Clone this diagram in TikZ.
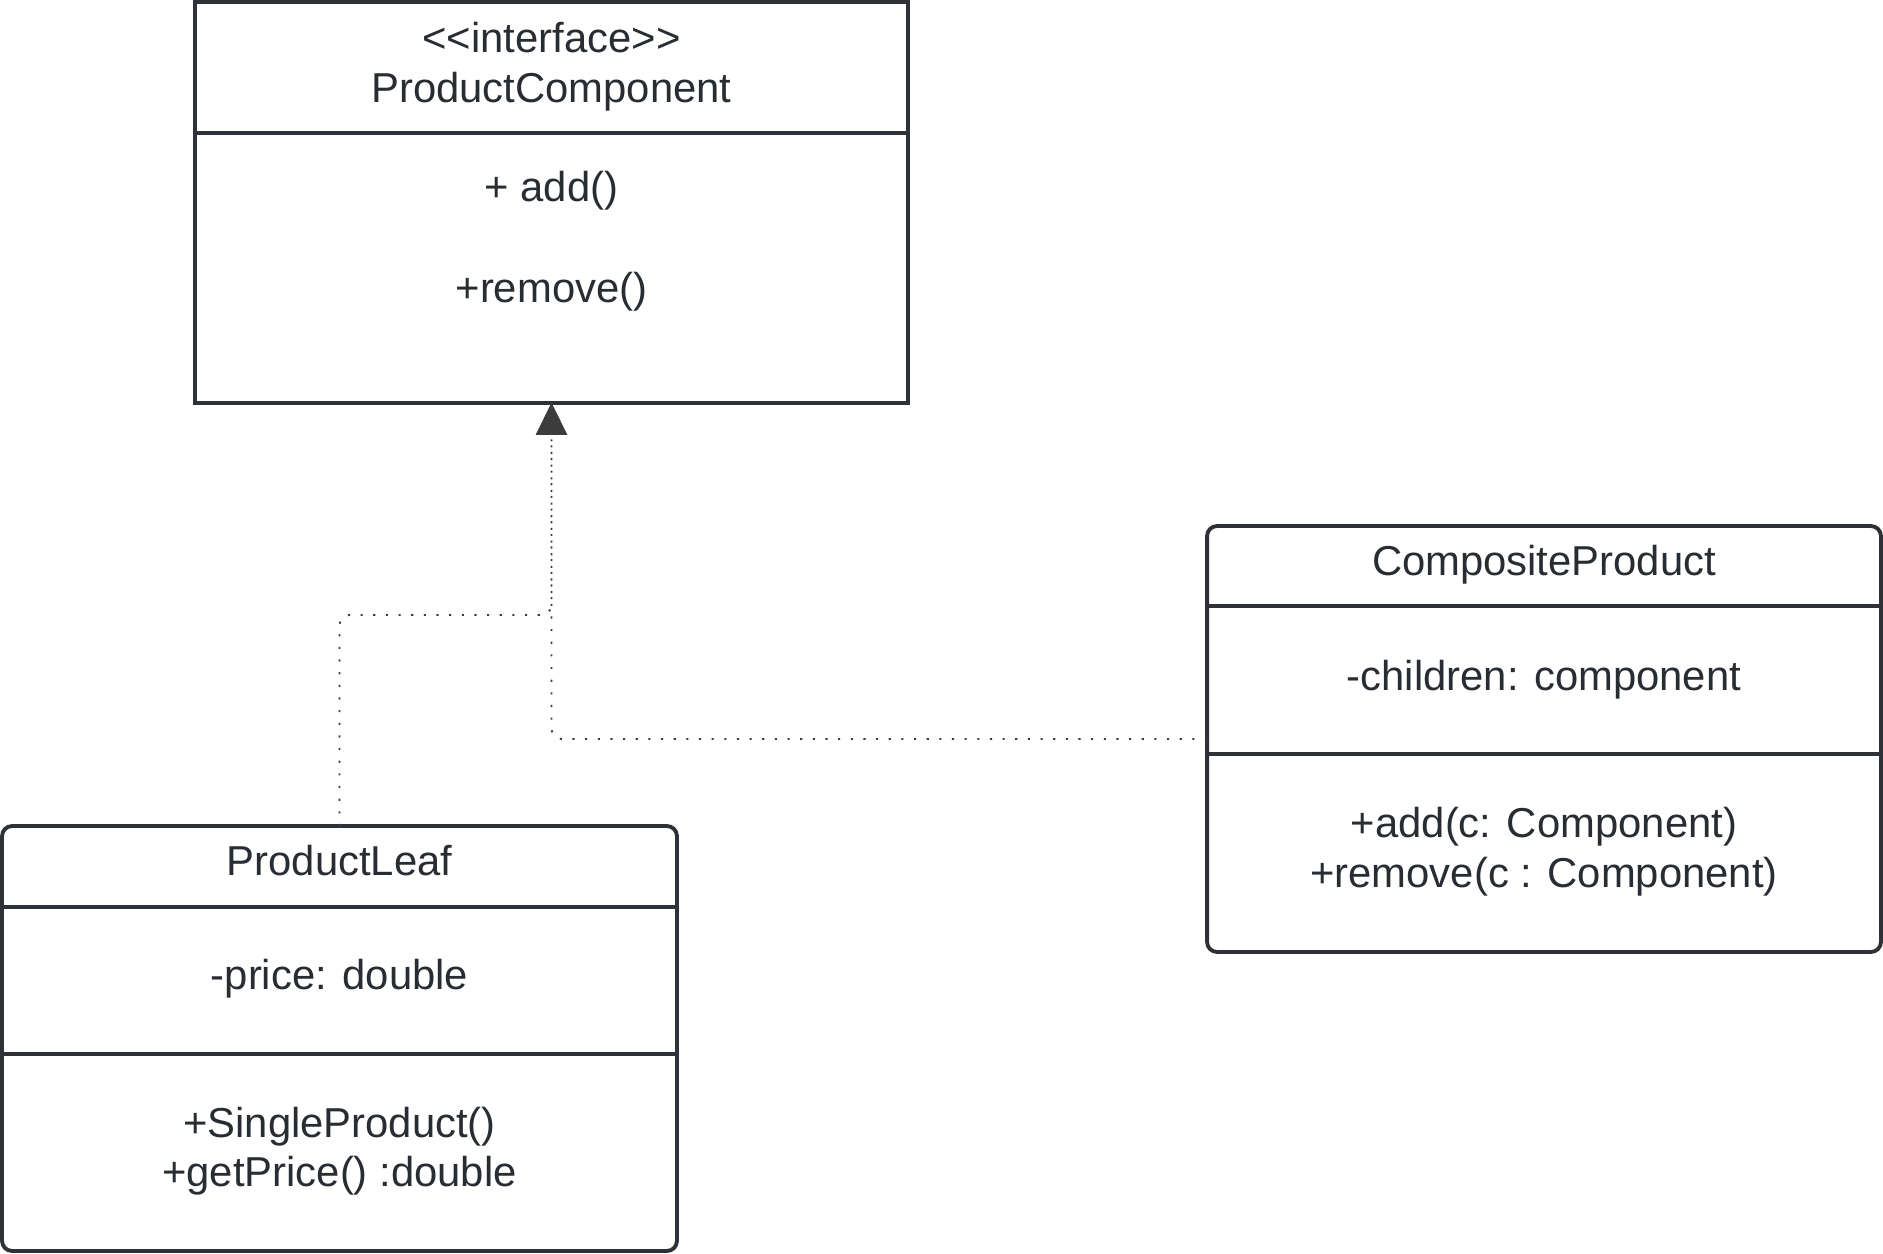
\documentclass[tikz,border=0pt]{standalone}
\usepackage{fontspec}
\newfontfamily\umlfont{Liberation Sans}
\usetikzlibrary{arrows.meta}
\definecolor{umlline}{HTML}{2E3238}
\definecolor{umlink}{HTML}{282C33}
\definecolor{dotgray}{HTML}{3C3C3C}
\tikzstyle{classbox} = [rectangle, rounded corners=0.2cm, draw=umlline, line width=2.2pt, inner sep=0pt, outer sep=0pt]
\tikzstyle{ifacebox} = [classbox, sharp corners]
\tikzstyle{divider} = [draw=umlline, line width=2.2pt]
\tikzstyle{member} = [anchor=base, text=umlink, font=\umlfont\fontsize{23.8pt}{27.9pt}\selectfont, inner sep=0pt]
\tikzstyle{realize} = [draw=dotgray, line width=1.1pt, dash pattern=on 1.2pt off 6pt, rounded corners=0.2cm, -{Triangle[length=0.64cm, width=0.62cm, fill=dotgray]}]

\begin{document}
\begin{tikzpicture}[x=0.02cm, y=-0.02cm]
	\useasboundingbox (0,0) rectangle (1883,1254);
	
	\node (iface) [ifacebox, minimum width=14.26cm, minimum height=8.02cm] at (551.5,202.5) {};
	\node (leaf) [classbox, minimum width=13.5cm, minimum height=8.5cm] at (339.5,1038.5) {};
	\node (comp) [classbox, minimum width=13.48cm, minimum height=8.52cm] at (1544,739) {};
	
	\draw[divider] (iface.west |- 0,133) -- (iface.east |- 0,133);
	\draw[divider] (leaf.west |- 0,907) -- (leaf.east |- 0,907);
	\draw[divider] (leaf.west |- 0,1054) -- (leaf.east |- 0,1054);
	\draw[divider] (comp.west |- 0,606) -- (comp.east |- 0,606);
	\draw[divider] (comp.west |- 0,754) -- (comp.east |- 0,754);
	
	\node (stereo) [member] at (551.5,52) {<<interface>>};
	\node (ifacename) [member] at (551.5,102) {ProductComponent};
	\node (addop) [member] at (551.5,201) {+ add()};
	\node (removeop) [member] at (551.5,302) {+remove()};
	
	\node (leafname) [member] at (339.5,875) {ProductLeaf};
	\node (price) [member] at (339.5,989) {-price: double};
	\node (singleop) [member] at (339.5,1137) {+SingleProduct()};
	\node (priceop) [member] at (339.5,1186) {+getPrice() :double};
	
	\node (compname) [member] at (1544,575) {CompositeProduct};
	\node (children) [member] at (1544,690) {-children: component};
	\node (compadd) [member] at (1544,837) {+add(c: Component)};
	\node (compremove) [member] at (1544,887) {+remove(c : Component)};
	
	\coordinate (bend) at (iface.south |- 0,615);
	\draw[realize] (leaf.north) |- (bend) -- (iface.south);
	\draw[realize] (comp.west) -| (iface.south);
	
\end{tikzpicture}
\end{document}
